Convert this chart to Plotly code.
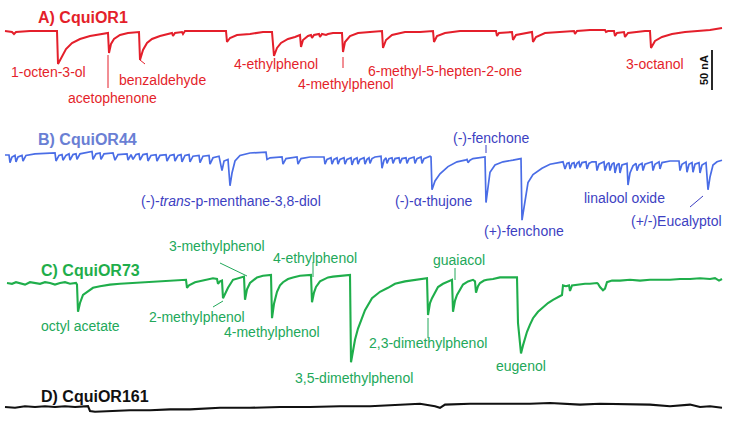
import plotly.graph_objects as go

# ---------------- data (time in s, current in nA relative to each trace's baseline) -------------
a_t = [5,12,14,16,30,45,56,57,58,62,66,72,80,90,100,107,108,109,111,114,120,128,137,139,140,143,147,152,160,170,172,173,175,182,183,185,200,225,
       226,227,230,237,250,263,272,274,277,281,288,295,300,301,303,308,311,312,314,319,320,322,326,328,333,340,342,343,345,350,358,370,382,
       383,386,392,405,420,433,434,437,445,460,480,496,497,499,512,513,516,525,532,533,536,545,560,574,575,577,590,605,606,608,614,615,617,
       624,625,628,645,650,651,655,662,672,685,700,710,722]
a_i = [0,-1.25,-3.75,-1.25,0,0,0,0,-41.25,-31.25,-22.5,-15,-10,-6.25,-3.75,-2.5,-2.5,-27.5,-16.25,-10,-5,-2.5,-1.25,-1.25,-36.25,-23.75,-15,-10,-6.25,-3.75,-2.5,-6.25,-2.5,-1.25,-3.75,0,0,0,
       0,-13.75,-8.75,-5,-3.75,-1.25,-1.25,-31.25,-21.25,-15,-10,-7.5,-5,-20,-11.25,-6.25,-5,-8.75,-5,-3.75,-7.5,-3.75,-5,-3.75,-2.5,-2.5,-2.5,-26.25,-13.75,-6.25,-2.5,-1.25,0,
       -21.25,-11.25,-5,-1.25,-1.25,0,-13.75,-6.25,-2.5,0,0,0,-6.25,-2.5,-1.25,-11.25,-5,-2.5,-1.25,-13.75,-7.5,-2.5,-1.25,0,-3.75,0,1.25,1.25,-1.25,0,0,-6.25,-2.5,
       -1.25,-7.5,-2.5,0,0,-21.25,-12.5,-7.5,-3.75,-1.25,0,1.25,3.75]

b_t = [5,9,10,12,15,16,18,22,23,26,35,52,55,56,59,62,63,66,69,70,73,76,77,80,88,92,93,96,100,101,104,113,115,118,127,128,131,133,136,139,140,143,
       147,148,151,156,157,160,166,167,170,174,175,178,181,182,185,189,190,193,199,200,203,209,210,213,219,220,222,224,228,230,232,235,240,250,
       262,266,267,270,282,283,286,297,298,301,310,324,325,327,331,332,334,337,338,340,344,345,347,351,352,354,357,358,360,364,365,367,369,370,
       372,375,381,382,384,386,387,389,392,393,395,399,400,402,406,407,409,414,415,417,421,422,424,430,431,432,435,440,448,457,465,467,468,470,
       473,480,485,486,488,490,495,503,513,520,521,522,524,526,528,533,542,550,560,563,565,567,569,570,572,574,575,577,579,580,582,586,587,589,
       592,596,597,599,604,605,607,609,610,612,614,615,617,619,620,622,627,628,630,633,636,637,639,642,643,645,652,653,655,659,660,662,670,679,
       680,682,686,687,689,692,693,695,699,700,702,706,708,710,713,717,722]
b_i = [-2.5,-2.5,-12,-5,-3,-11,-5,-3,-10,-3,-1,0,0,-10,-3,-2,-9,-3,-1,-9,-2,-1,-8,-1,1,2,-8,-1,0,-8,-1,0,-9,-2,-1,-9,-2,-8,-2,-1,-9,-2,
       -1,-10,-3,-2,-10,-3,-2,-10,-3,-2,-10,-3,-2,-11,-3,-2,-11,-4,-3,-12,-4,-3,-14,-6,-4,-12,-22,-10,-8,-41,-25,-10,-3,0,
       1,1,-8,-6,-5,-14,-7,-5,-14,-7,-5,-5,-14,-8,-6,-14,-8,-6,-14,-8,-6,-14,-8,-6,-15,-8,-6,-14,-8,-6,-14,-8,-6,-13,
       -7,-5,-4,-19,-9,-6,-13,-7,-6,-13,-7,-6,-13,-7,-6,-13,-7,-5,-13,-7,-5,-13,-7,-4,-5,-46,-35,-26,-17,-11,-9,-8,-12,-9,
       -7,-6,-5,-62,-45,-24,-15,-11,-9,-7,-7,-84,-70,-55,-37,-27,-19,-14,-11,-11,-20,-13,-12,-20,-13,-12,-19,-13,-11,-18,-12,-11,-20,-13,
       -11,-11,-22,-14,-11,-22,-14,-12,-22,-14,-12,-25,-15,-13,-25,-15,-13,-40,-25,-16,-13,-22,-15,-13,-22,-14,-11,-22,-14,-11,-20,-12,-10,-10,
       -22,-14,-11,-24,-14,-12,-24,-14,-12,-25,-15,-12,-46,-30,-15,-11,-9]

c_t = [7,12,16,20,25,30,35,40,45,50,55,60,65,70,76,77,78,80,83,88,93,100,110,120,133,150,165,183,186,187,189,195,205,213,217,218,220,222,223,225,
       228,233,238,244,245,247,250,257,263,271,272,274,277,280,283,288,293,300,311,312,314,316,320,323,328,333,340,350,351,353,355,358,361,365,
       372,380,388,395,405,415,427,428,430,432,435,438,443,447,452,453,455,457,460,463,468,473,475,476,478,480,484,487,493,500,510,517,518,521,
       523,525,527,530,533,538,543,548,553,558,562,563,566,569,570,572,578,585,590,597,598,600,603,605,607,612,620,630,640,650,660,670,680,690,
       700,710,715,719,722]
c_i = [0,-1,1,0,-2,1,0,-1,1,0,-2,0,1,-1,0,-2,-36,-25,-15,-10,-6,-4,-2,-1,0,1,2,4,4,-6,-3,1,4,6,5,-1,2,3,-19,-13,
       -6,4,6,8,-21,-8,0,7,9,10,-44,-26,-11,-3,1,5,7,9,10,-24,-12,-5,2,4,7,8,9,10,-99,-85,-71,-57,-46,-34,
       -19,-11,-6,-1,2,4,6,-40,-25,-19,-11,-5,-1,1,4,-36,-22,-15,-9,-2,2,4,2,-12,-4,0,3,4,5,7,7,7,-50,-88,
       -78,-68,-61,-52,-44,-36,-30,-25,-21,-18,-15,-3,-4,-3,-10,-3,-2,-1,-1,0,-1,-5,-9,-7,1,3,3,4,3,4,4,4,5,5,
       6,5,6,3,5]

d_t = [5,15,25,35,45,55,65,75,88,90,95,110,130,150,170,190,220,250,280,310,340,370,400,420,435,440,445,470,500,530,550,565,580,600,630,650,670,690,700,710,722]
d_i = [0,-1,1,0,1,0,1,0,1,-5,-6,-5,-4,-4,-3,-3,-1,-1,0,0,1,1,3,4,1,-1,3,4,4,4,5,4,3,4,3,3,1,3,0,1,-1]

SCALE_NA = 50

# ---------------- layout constants ----------------
W, H = 729, 426
NA_PER_PX = 1.25
def py(p):               # layout helper: pixel row -> axis units
    return -p * NA_PER_PX

off = {"A": py(31), "B": py(153), "C": py(283), "D": py(407)}
RED, BLUE, BLUE_T, BLUE_L, GREEN, GREEN_L = "#e41f2b", "#4a6de6", "#6a7fd4", "#3d3fc2", "#1fae4b", "#22a85a"
FONT = "Liberation Sans, Arial, sans-serif"
LBL = 14
TTL = 16

fig = go.Figure()
for t, i, k, col, w in [(a_t, a_i, "A", RED, 2.0), (b_t, b_i, "B", BLUE, 1.7),
                        (c_t, c_i, "C", GREEN, 2.1), (d_t, d_i, "D", "#111111", 2.1)]:
    fig.add_trace(go.Scatter(x=t, y=[off[k] + v for v in i], mode="lines",
                             line=dict(color=col, width=w), hoverinfo="skip", showlegend=False))

ann = []
def label(text, x, y, color, size=LBL, bold=False):
    ann.append(dict(text=f"<b>{text}</b>" if bold else text, x=x, y=py(y), xref="x", yref="y",
                    xanchor="left", yanchor="middle", showarrow=False,
                    font=dict(family=FONT, size=size, color=color)))

label("A) CquiOR1", 36, 17, RED, TTL, True)
label("1-octen-3-ol", 9, 72, RED)
label("acetophenone", 66, 98, RED)
label("benzaldehyde", 117, 80, RED)
label("4-ethylphenol", 232, 64, RED)
label("4-methylphenol", 296, 84, RED)
label("6-methyl-5-hepten-2-one", 366, 71, RED)
label("3-octanol", 624, 64, RED)

label("B) CquiOR44", 36, 139, BLUE_T, TTL, True)
label("(-)-<i>trans</i>-p-menthane-3,8-diol", 139, 201, BLUE_L)
label("(-)-α-thujone", 393, 201, BLUE_L)
label("(-)-fenchone", 451, 138, BLUE_L)
label("(+)-fenchone", 482, 231, BLUE_L)
label("linalool oxide", 582, 198, BLUE_L)
label("(+/-)Eucalyptol", 629, 221, BLUE_L)

label("C) CquiOR73", 39, 270, GREEN, TTL, True)
label("octyl acetate", 39, 326, GREEN_L)
label("2-methylphenol", 147, 317, GREEN_L)
label("3-methylphenol", 167, 246, GREEN_L)
label("4-methylphenol", 222, 332, GREEN_L)
label("4-ethylphenol", 271, 258, GREEN_L)
label("3,5-dimethylphenol", 293, 378, GREEN_L)
label("2,3-dimethylphenol", 367, 343, GREEN_L)
label("guaiacol", 431, 260, GREEN_L)
label("eugenol", 494, 366, GREEN_L)

label("D) CquiOR161", 39, 396, "#111111", TTL, True)

# scale bar
sb_x, sb_top = 712, py(50)
ann.append(dict(text="<b>50 nA</b>", x=704, y=sb_top - SCALE_NA / 2, xref="x", yref="y", textangle=-90,
                showarrow=False, font=dict(family=FONT, size=11, color="#111111")))

shapes = [dict(type="line", x0=sb_x, x1=sb_x, y0=sb_top, y1=sb_top - SCALE_NA, xref="x", yref="y",
               line=dict(color="#111111", width=1.8))]
def lead(x0, y0, x1, y1, color):
    shapes.append(dict(type="line", x0=x0, x1=x1, y0=py(y0), y1=py(y1), xref="x", yref="y",
                       line=dict(color=color, width=1)))
lead(108, 55, 108, 88, RED)
lead(140, 60, 145, 64, RED)
lead(343, 57, 343, 68, RED)
lead(486, 145, 486, 153, BLUE_L)
lead(690, 207, 703, 196, BLUE_L)
lead(213, 307, 223, 301, GREEN_L)
lead(220, 263, 247, 276, GREEN_L)
lead(313, 262, 313, 277, GREEN_L)
lead(428, 318, 428, 338, GREEN_L)
lead(455, 268, 455, 280, GREEN_L)

fig.update_layout(width=W, height=H, margin=dict(l=0, r=0, t=0, b=0),
                  paper_bgcolor="white", plot_bgcolor="white",
                  xaxis=dict(range=[0, W], visible=False, fixedrange=True),
                  yaxis=dict(range=[py(H), 0], visible=False, fixedrange=True),
                  annotations=ann, shapes=shapes)
fig.write_html("out.html", config={"displayModeBar": False},
               post_script="document.body.style.margin='0';document.body.style.overflow='hidden';")
